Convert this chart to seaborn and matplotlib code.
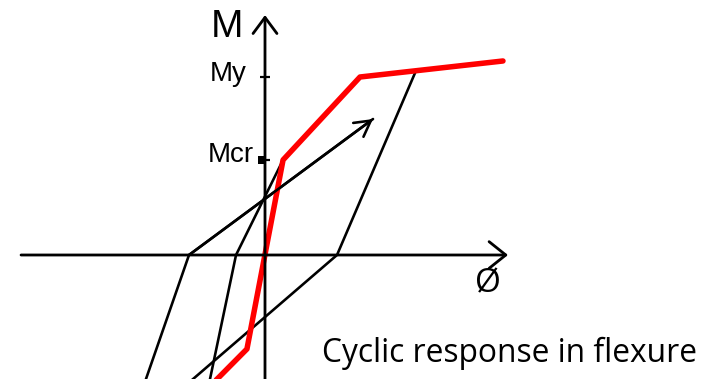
import matplotlib
matplotlib.use("Agg")
import matplotlib.pyplot as plt
import seaborn as sns
from matplotlib.transforms import ScaledTranslation

# Moment levels, normalised by the yield moment
M_cr = 0.534
M_y = 1.0

# Monotonic (backbone) moment-curvature response
backbone_phi = [-0.547, -0.19, 0.19, 1.0, 2.505]
backbone_M = [-0.72, -0.528, 0.534, 1.0, 1.09]

# Cyclic branches: unloading / reloading paths
branch_a_phi = [-1.268, -0.80, 1.137]
branch_a_M = [-0.72, 0.0, 0.764]
branch_b_phi = [-0.588, -0.305, 0.19]
branch_b_M = [-0.72, 0.0, 0.534]
branch_c_phi = [-0.808, 0.758, 1.589]
branch_c_M = [-0.72, 0.0, 1.035]

# Axis extents
phi_axis = [-2.568, 2.558]
M_axis = [-0.72, 1.348]

sns.set_theme(style="white")
plt.rcParams["font.family"] = ["Liberation Sans", "DejaVu Sans"]
plt.rcParams["text.color"] = "black"

arial = ["Liberation Sans", "DejaVu Sans"]
body = ["Open Sans", "DejaVu Sans"]

fig = plt.figure(figsize=(7.18, 3.79), dpi=100)
ax = fig.add_axes([0, 0, 1, 1])
ax.set_xlim(-265 / 95, 453 / 95)
ax.set_ylim(-124 / 178, 255 / 178)
ax.set_axis_off()

px = 72 / 100  # points per pixel

# Coordinate axes with open arrowheads
ax.annotate("", xy=(phi_axis[1], 0), xytext=(phi_axis[0], 0),
            arrowprops=dict(arrowstyle="->,head_length=0.6,head_width=0.48",
                            lw=2.8 * px, color="black", shrinkA=0, shrinkB=0,
                            mutation_scale=20))
ax.annotate("", xy=(0, M_axis[1]), xytext=(0, M_axis[0]),
            arrowprops=dict(arrowstyle="->,head_length=0.58,head_width=0.43",
                            lw=2.8 * px, color="black", shrinkA=0, shrinkB=0,
                            mutation_scale=20))

# Cyclic branches
for phis, ms in [(branch_a_phi, branch_a_M), (branch_b_phi, branch_b_M),
                 (branch_c_phi, branch_c_M)]:
    sns.lineplot(x=phis, y=ms, sort=False, estimator=None, color="black",
                 linewidth=2.6 * px, ax=ax)
ax.annotate("", xy=(branch_a_phi[-1], branch_a_M[-1]),
            xytext=(branch_a_phi[-2], branch_a_M[-2]),
            arrowprops=dict(arrowstyle="->,head_length=0.56,head_width=0.31",
                            lw=2.6 * px, color="black", shrinkA=0, shrinkB=0,
                            mutation_scale=20))

# Backbone
sns.lineplot(x=backbone_phi, y=backbone_M, sort=False, estimator=None,
             color="#ff0000", linewidth=5.5 * px, ax=ax)

# Tick marks for My and Mcr on the moment axis
ax.plot([0], [M_y], marker="_", ms=10 * px, mew=2.2 * px, color="black")
ax.plot([0], [M_cr], marker="_", ms=9 * px, mew=2.2 * px, color="black")
shift = ax.transData + ScaledTranslation(-3 / 100, 0, fig.dpi_scale_trans)
ax.plot([0], [M_cr], marker="s", ms=8 * px, mew=0, color="black",
        transform=shift)

# Labels
ax.annotate("M", xy=(0, M_axis[1]), xytext=(-22, -22), textcoords="offset pixels",
            ha="right", va="baseline", fontsize=28, family=arial, color="black")
ax.annotate("My", xy=(0, M_y), xytext=(-18, -4), textcoords="offset pixels",
            ha="right", va="baseline", fontsize=20, family=arial, color="black")
ax.annotate("Mcr", xy=(0, M_cr), xytext=(-11, -2), textcoords="offset pixels",
            ha="right", va="baseline", fontsize=20, family=arial, color="black")
ax.annotate("Ø", xy=(phi_axis[1], 0), xytext=(-20, -29), textcoords="offset pixels",
            ha="center", va="center", fontsize=24, family=body, color="black")

fig.text(322 / 718, 1 - 362 / 379, "Cyclic response in flexure",
         ha="left", va="baseline", fontsize=22.9, family=body, color="black")

fig.savefig("out.png", dpi=100)
